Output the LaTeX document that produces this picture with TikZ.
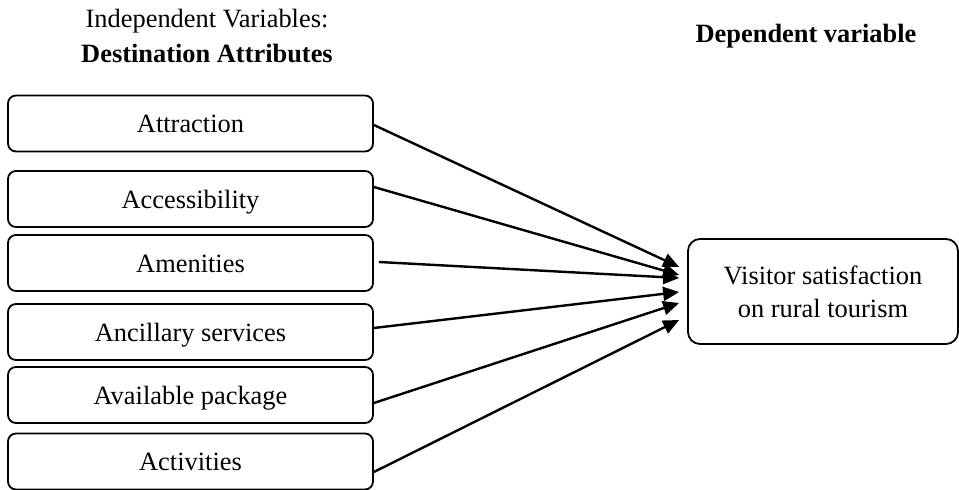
\documentclass[tikz,border=0pt]{standalone}
\usepackage{fontspec}
\setmainfont{Liberation Serif}
\usetikzlibrary{arrows.meta}
\begin{document}
\begin{tikzpicture}[x=0.5pt,y=-0.5pt,
  every node/.style={font=\fontsize{13.2pt}{16.5pt}\selectfont},
  attr/.style={draw, line width=0.9pt, rounded corners=4pt, minimum width=182.5pt, minimum height=28pt, inner sep=0pt, text height=11pt, text depth=1.5pt},
  dep/.style={draw, line width=0.9pt, rounded corners=6pt, minimum width=135pt, minimum height=52.5pt, inner sep=0pt, align=center},
  link/.style={line width=1.2pt, -{Triangle[length=8pt,width=7pt]}}]
\useasboundingbox (0,0) rectangle (959,490);
\node[anchor=base] (h1) at (207,28) {Independent Variables:};
\node[anchor=base] (h2) at (207,63) {\bfseries Destination Attributes};
\node[anchor=base] (h3) at (806,43) {\bfseries Dependent variable};
\node[attr] (a1) at (190.5,123.5) {Attraction};
\node[attr] (a2) at (190.5,199) {Accessibility};
\node[attr] (a3) at (190.5,263) {Amenities};
\node[attr] (a4) at (190.5,332) {Ancillary services};
\node[attr] (a5) at (190.5,395) {Available package};
\node[attr] (a6) at (190.5,461.5) {Activities};
\node[dep] (v) at (823,291.5) {\raisebox{0pt}{Visitor satisfaction}\\on rural tourism};
\draw[link] ([yshift=-0.75pt]a1.east) -- ([xshift=-4pt,yshift=12.25pt]v.west);
\draw[link] ([yshift=6pt]a2.east) -- ([xshift=-4pt,yshift=8.25pt]v.west);
\draw[link] ([xshift=2.5pt,yshift=0.5pt]a3.east) -- ([xshift=-4pt,yshift=6.75pt]v.west);
\draw[link] ([yshift=2pt]a4.east) -- ([xshift=-4pt,yshift=-0.25pt]v.west);
\draw[link] ([yshift=-4pt]a5.east) -- ([xshift=-4pt,yshift=-5.75pt]v.west);
\draw[link] ([yshift=-5.25pt]a6.east) -- ([xshift=-4pt,yshift=-14.25pt]v.west);
\end{tikzpicture}
\end{document}
